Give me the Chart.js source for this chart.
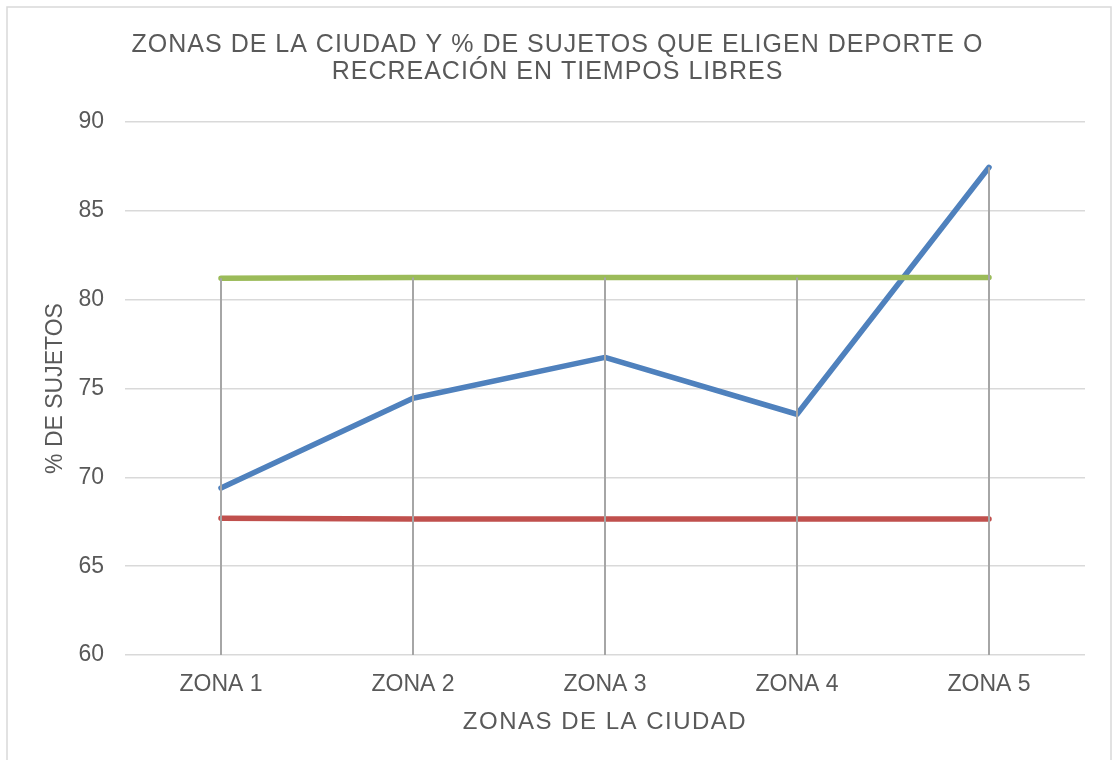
<!DOCTYPE html>
<html>
<head>
<meta charset="utf-8">
<script src="https://cdn.jsdelivr.net/npm/chart.js@4"></script>
<style>
  html, body { margin: 0; padding: 0; background: #fff; }
  #wrap { width: 1112px; height: 760px; position: relative; }
</style>
</head>
<body>
<div id="wrap"><canvas id="myChart" width="1112" height="760"></canvas></div>
<script>
// datos
const zonas = ["ZONA 1", "ZONA 2", "ZONA 3", "ZONA 4", "ZONA 5"];
const serieAzul = [69.4, 74.45, 76.75, 73.55, 87.45];
const serieRoja = [67.7, 67.65, 67.65, 67.65, 67.65];
const serieVerde = [81.2, 81.25, 81.25, 81.25, 81.25];
const yTicks = [60, 65, 70, 75, 80, 85, 90];

const textColor = "#595959";
const fontFam = "'Liberation Sans', Arial, sans-serif";

// marco exterior gris claro
const frame = {
    id: "frame",
    beforeDraw(chart) {
        const ctx = chart.ctx;
        ctx.save();
        ctx.fillStyle = "#fff";
        ctx.fillRect(0, 0, chart.width, chart.height);
        ctx.strokeStyle = "#d9d9d9";
        ctx.lineWidth = 1.5;
        ctx.strokeRect(7, 7, 1104, 770);
        ctx.restore();
    }
};

// titulos un poco espaciados, como en Excel
const spacing = {
    id: "spacing",
    afterLayout(chart) {
        const wrap = (obj, fn, sp) => {
            if (!obj || obj["_sp_" + fn]) return;
            const orig = obj[fn];
            obj[fn] = function(...args) {
                const ctx = chart.ctx;
                ctx.letterSpacing = sp;
                orig.apply(this, args);
                ctx.letterSpacing = "0px";
            };
            obj["_sp_" + fn] = true;
        };
        wrap(chart.titleBlock, "draw", "1px");
        wrap(chart.scales.x, "drawTitle", "1.5px");
    }
};

// lineas de proyeccion (drop lines) como en Excel
const dropLines = {
    id: "dropLines",
    afterDatasetsDraw(chart) {
        const ctx = chart.ctx;
        const x = chart.scales.x, y = chart.scales.y;
        ctx.save();
        ctx.strokeStyle = "#a6a6a6";
        ctx.lineWidth = 2;
        zonas.forEach((z, i) => {
            const top = Math.max(serieAzul[i], serieRoja[i], serieVerde[i]);
            const px = x.getPixelForValue(i);
            ctx.beginPath();
            ctx.moveTo(px, y.getPixelForValue(top));
            ctx.lineTo(px, chart.chartArea.bottom);
            ctx.stroke();
        });
        ctx.restore();
    }
};

const lineStyle = {
    borderWidth: 5.5,
    pointRadius: 0,
    tension: 0,
    fill: false,
    borderCapStyle: "round",
    borderJoinStyle: "round"
};

new Chart(document.getElementById("myChart"), {
    type: "line",
    data: {
        labels: zonas,
        datasets: [
            { label: "Verde", data: serieVerde, borderColor: "#9bbb59", ...lineStyle },
            { label: "Roja", data: serieRoja, borderColor: "#c0504d", ...lineStyle },
            { label: "Azul", data: serieAzul, borderColor: "#4f81bd", ...lineStyle }
        ]
    },
    options: {
        responsive: false,
        animation: false,
        layout: { padding: { left: 30, right: 27, top: 18, bottom: 23 } },
        plugins: {
            legend: { display: false },
            tooltip: { enabled: false },
            title: {
                display: true,
                text: ["ZONAS DE LA CIUDAD Y % DE SUJETOS QUE ELIGEN DEPORTE O", "RECREACIÓN EN TIEMPOS LIBRES"],
                color: textColor,
                font: { family: fontFam, size: 25, weight: "normal", lineHeight: 1.08 },
                padding: { top: 14, bottom: 36 }
            }
        },
        scales: {
            x: {
                offset: true,
                afterFit(scale) { scale.height = 82; },
                grid: { display: false, drawTicks: false },
                border: { display: false },
                ticks: { color: textColor, font: { family: fontFam, size: 23 }, padding: 16, maxRotation: 0 },
                title: {
                    display: true,
                    text: "ZONAS DE LA CIUDAD",
                    color: textColor,
                    font: { family: fontFam, size: 24 },
                    padding: { top: 0, bottom: 0 }
                }
            },
            y: {
                min: 60,
                max: 90,
                afterBuildTicks(scale) { scale.ticks = yTicks.map(v => ({ value: v })); },
                afterFit(scale) { scale.width = 95; },
                grid: { color: "#d9d9d9", lineWidth: 1.5, drawTicks: false },
                border: { display: false },
                ticks: { color: textColor, font: { family: fontFam, size: 23 }, padding: 21 },
                title: {
                    display: true,
                    text: "% DE SUJETOS",
                    color: textColor,
                    font: { family: fontFam, size: 23 },
                    padding: { top: 12, bottom: 0 }
                }
            }
        }
    },
    plugins: [frame, spacing, dropLines]
});
</script>
</body>
</html>
